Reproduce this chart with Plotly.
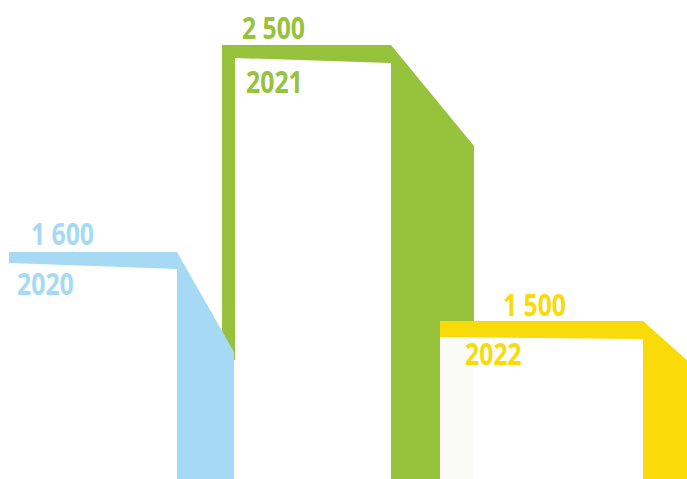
import plotly.graph_objects as go

# ---- data ----
years = ["2020", "2021", "2022"]
values = [1600, 2500, 1500]
colors = ["#A6DAF4", "#96C23C", "#F9DB0A"]

# ---- drawing geometry (pixel space, y down) ----
W, H = 687, 479
geom = {
    "2020": dict(xl=9, xb=177, xr=234, top=252, bl=263, br=269, dy=352, strip=None),
    "2021": dict(xl=222, xb=391, xr=474, top=45, bl=58, br=63, dy=146, strip=(235, 360)),
    "2022": dict(xl=440, xb=643, xr=700, top=321, bl=337, br=339, dy=372, strip=None),
}
label_pos = {
    "2020": dict(v=(62, 233), y=(45, 283)),
    "2021": dict(v=(273, 27), y=(274, 81)),
    "2022": dict(v=(534, 304), y=(493, 353)),
}

fig = go.Figure()

def poly(xs, ys, color):
    fig.add_trace(go.Scatter(x=xs + [xs[0]], y=ys + [ys[0]], mode="lines", fill="toself",
                             fillcolor=color, line=dict(width=0, color=color),
                             hoverinfo="skip", showlegend=False))

order = [1, 0, 2]
for i in order:
    yr, val, col = years[i], values[i], colors[i]
    g = geom[yr]
    if g["strip"] is None:
        xs = [g["xl"], g["xb"], g["xr"], g["xr"], g["xb"], g["xb"], g["xl"]]
        ys = [g["top"], g["top"], g["dy"], H, H, g["br"], g["bl"]]
    else:
        sx, sb = g["strip"]
        xs = [g["xl"], g["xb"], g["xr"], g["xr"], g["xb"], g["xb"], sx, sx, g["xl"]]
        ys = [g["top"], g["top"], g["dy"], H, H, g["br"], g["bl"], sb, sb]
    poly(xs, ys, col)
    if yr == "2022":
        # interior of the yellow box covers the green neighbour (slightly off-white)
        xo = geom["2021"]["xr"]
        poly([g["xl"], xo, xo, g["xl"]], [g["bl"], g["bl"], H, H], "#FAFAF8")

font_family = "Open Sans, Roboto, sans-serif"
for yr, val, col in zip(years, values, colors):
    lp = label_pos[yr]
    txt = f"{val:,}".replace(",", " ")
    fig.add_annotation(x=lp["v"][0], y=lp["v"][1], text=f"<b>{txt}</b>", showarrow=False,
                       xanchor="center", yanchor="middle",
                       font=dict(family=font_family, size=31, color=col))
    fig.add_annotation(x=lp["y"][0], y=lp["y"][1], text=f"<b>{yr}</b>", showarrow=False,
                       xanchor="center", yanchor="middle",
                       font=dict(family=font_family, size=31, color=col))

fig.update_layout(
    width=W, height=H, margin=dict(l=0, r=0, t=0, b=0),
    paper_bgcolor="white", plot_bgcolor="white",
    xaxis=dict(range=[0, W], visible=False, fixedrange=True),
    yaxis=dict(range=[H, 0], visible=False, fixedrange=True),
    showlegend=False,
)

post = """
document.body.style.margin = '0';
document.querySelectorAll('.annotation-text').forEach(function (t) {
  t.style.transformBox = 'fill-box';
  t.style.transformOrigin = 'center';
  t.style.transform = 'scaleX(0.80)';
});
"""
fig.write_html("out.html", post_script=post, config={"displayModeBar": False, "staticPlot": True})
